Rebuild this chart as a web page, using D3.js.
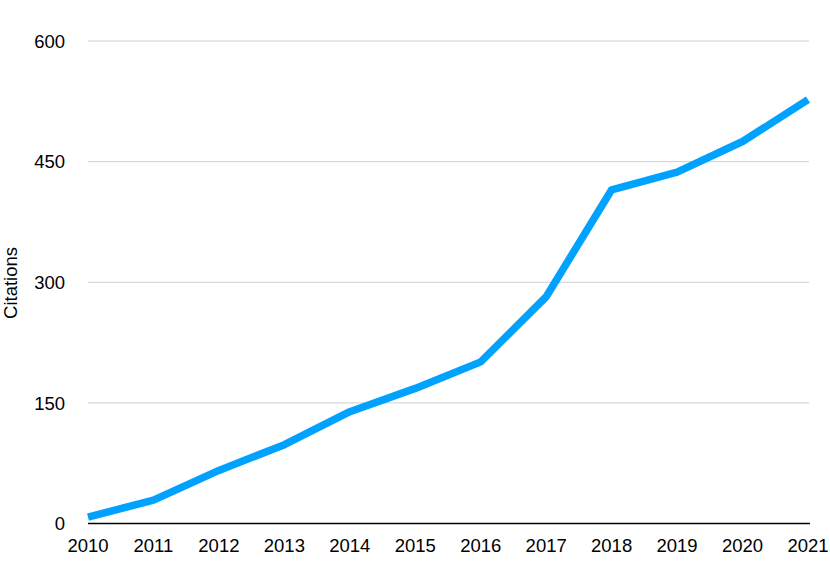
<!DOCTYPE html>
<html><head><meta charset="utf-8">
<script src="https://cdn.jsdelivr.net/npm/d3@7"></script>
<style>body{margin:0;background:#fff}svg{display:block}text{font-family:"Liberation Sans",Arial,Helvetica,sans-serif}</style>
</head><body><svg id="c" width="830" height="587"></svg>
<script>
const years = [2010,2011,2012,2013,2014,2015,2016,2017,2018,2019,2020,2021];
const citations = [8,29,66,98,139,168,201,282,415,437,475,527];
const yTicks = [0,150,300,450,600];

const svg = d3.select("#c");
const x = d3.scalePoint().domain(years).range([88,808]);
const y = d3.scaleLinear().domain([0,600]).range([523.5,41]);

svg.append("g").selectAll("line").data(yTicks.filter(d=>d>0)).join("line")
  .attr("x1",88).attr("x2",809).attr("y1",d=>y(d)).attr("y2",d=>y(d))
  .attr("stroke","#cfcfcf").attr("stroke-width",1);

svg.append("line").attr("x1",88).attr("x2",810).attr("y1",y(0)).attr("y2",y(0))
  .attr("stroke","#000").attr("stroke-width",1.5);

svg.append("g").selectAll("text").data(yTicks).join("text")
  .attr("x",65).attr("y",d=>y(d)).attr("dy","0.36em").attr("text-anchor","end")
  .attr("font-size",18.5).attr("fill","#000").text(d=>d);

svg.append("g").selectAll("text").data(years).join("text")
  .attr("x",d=>x(d)).attr("y",552).attr("text-anchor","middle")
  .attr("font-size",18.5).attr("fill","#000").text(d=>d);

svg.append("text").attr("transform","translate(17,283) rotate(-90)")
  .attr("text-anchor","middle").attr("font-size",18.5).attr("fill","#000").text("Citations");

const line = d3.line().x((d,i)=>x(years[i])).y(d=>y(d));
svg.append("path").datum(citations).attr("d",line)
  .attr("fill","none").attr("stroke","#00A2FF").attr("stroke-width",7.5)
  .attr("stroke-linejoin","round").attr("stroke-linecap","butt");
</script></body></html>
